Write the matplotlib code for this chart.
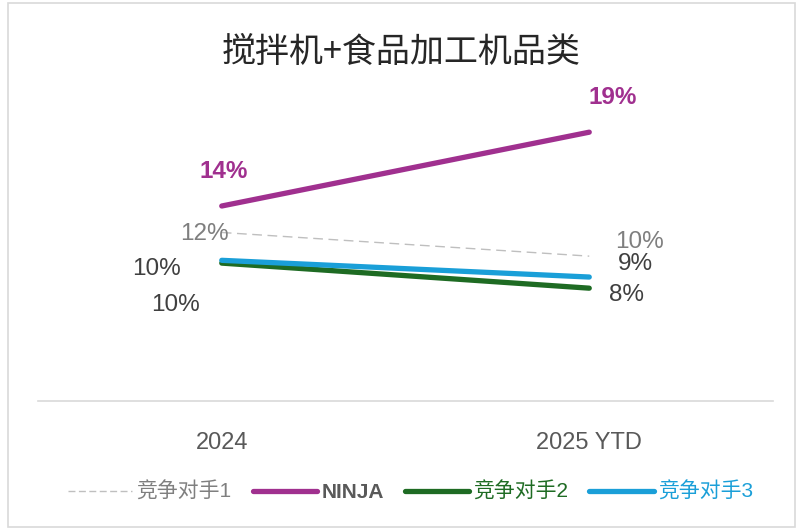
import matplotlib
matplotlib.use("Agg")
import matplotlib.pyplot as plt
from matplotlib.patches import Rectangle
from matplotlib.lines import Line2D

plt.rcParams['font.family'] = ['Liberation Sans', 'Noto Sans CJK SC', 'DejaVu Sans']

categories = ["2024", "2025 YTD"]
series_names = ["竞争对手1", "NINJA", "竞争对手2", "竞争对手3"]
comp1 = [12.1, 10.4]
ninja = [14.0, 19.3]
comp2 = [9.9, 8.1]
comp3 = [10.1, 8.9]

fig = plt.figure(figsize=(7.97, 5.30), dpi=100)
fig.patches.append(Rectangle((8/797, 3/530), 787/797, 524/530, transform=fig.transFigure,
                             fill=False, edgecolor="#D9D9D9", linewidth=1.2))
ax = fig.add_axes([38/797, 1-401/530, 735/797, 0.657])
x = [0, 1]

styles = {
    "竞争对手1": dict(color="#BFBFBF", lw=1.0, ls=(0, (7, 4))),
    "NINJA": dict(color="#A0308F", lw=3.8, ls="-"),
    "竞争对手2": dict(color="#1E6B23", lw=3.8, ls="-"),
    "竞争对手3": dict(color="#1A9FD8", lw=3.8, ls="-"),
}
data = {"竞争对手1": comp1, "NINJA": ninja, "竞争对手2": comp2, "竞争对手3": comp3}
order = ["竞争对手1", "NINJA", "竞争对手2", "竞争对手3"]
for name in order:
    s = styles[name]
    ax.plot(x, data[name], color=s["color"], lw=s["lw"], ls=s["ls"],
            solid_capstyle="round", zorder=3 if name != "竞争对手1" else 2)

# data labels
label_cfg = {
    "NINJA": dict(color="#A0308F", weight="bold", offs=[(2, 35), (23, 35)]),
    "竞争对手1": dict(color="#7F7F7F", weight="normal", offs=[(-17, -2), (50, 14)]),
    "竞争对手3": dict(color="#404040", weight="normal", offs=[(-65, -9), (46, 13)]),
    "竞争对手2": dict(color="#404040", weight="normal", offs=[(-46, -42), (37, -7)]),
}
for name, cfg in label_cfg.items():
    for i, v in enumerate(data[name]):
        ax.annotate(f"{v:.0f}%", (x[i], v), xytext=cfg["offs"][i], textcoords="offset pixels",
                    ha="center", va="center", fontsize=17.5, color=cfg["color"],
                    fontweight=cfg["weight"])

ax.set_xlim(-0.5, 1.5)
ax.set_ylim(0, 25)
ax.set_xticks(x)
ax.set_xticklabels(categories, fontsize=17, color="#595959")
ax.tick_params(axis="x", length=0, pad=22)
ax.set_yticks([])
for sp in ["top", "right", "left"]:
    ax.spines[sp].set_visible(False)
ax.spines["bottom"].set_color("#D9D9D9")
ax.spines["bottom"].set_linewidth(1.2)

fig.text(0.503, 1-52/530, "搅拌机+食品加工机品类", ha="center", va="center",
         fontsize=24.5, fontweight=300, color="#262626",
         family=['Noto Sans CJK SC', 'DejaVu Sans'])

handles = [Line2D([0], [0], color=styles[n]["color"], lw=styles[n]["lw"],
                  ls=(0, (5, 2.5)) if n == "竞争对手1" else styles[n]["ls"],
                  solid_capstyle="round") for n in order]
leg = fig.legend(handles, order, loc="center", bbox_to_anchor=(0.515, 1-492/530), ncol=4,
                 frameon=False, fontsize=15, handlelength=3.1, handletextpad=0.2,
                 columnspacing=1.0)
text_colors = ["#7F7F7F", "#595959", "#1E6B23", "#1A9FD8"]
for t, c, n in zip(leg.get_texts(), text_colors, order):
    t.set_color(c)
    if n == "NINJA":
        t.set_fontweight("bold")

fig.savefig("out.png", dpi=100)
